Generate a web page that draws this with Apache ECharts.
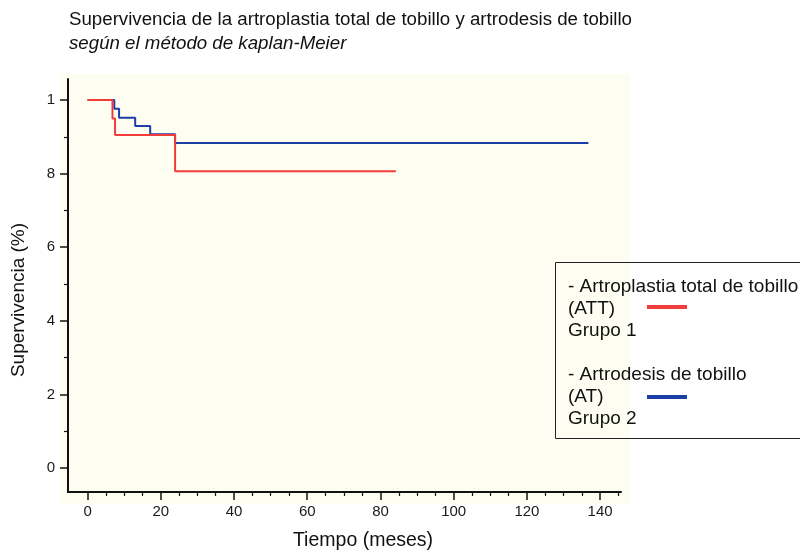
<!DOCTYPE html>
<html><head><meta charset="utf-8">
<script src="https://cdn.jsdelivr.net/npm/echarts@6/dist/echarts.min.js"></script>
<style>html,body{margin:0;padding:0;background:#fff}#c{width:800px;height:550px}</style>
</head><body><div id="c"></div>
<script>
// Kaplan-Meier steps: [time (months), survival]
const attTimes = [0, 6.8, 7.5, 23.9, 84.2];
const attSurv  = [1, 0.950, 0.905, 0.806, 0.806];
const atTimes  = [0, 7.3, 8.6, 13.0, 17.1, 23.9, 136.8];
const atSurv   = [1, 0.976, 0.952, 0.929, 0.907, 0.883, 0.883];
const xTicks = [0, 20, 40, 60, 80, 100, 120, 140];
const xMinorTicks = [5,10,15,25,30,35,45,50,55,65,70,75,85,90,95,105,110,115,125,130,135,145];
const yTicks = [0, 0.2, 0.4, 0.6, 0.8, 1];
const yTickLabels = ["0", "2", "4", "6", "8", "1"];
const yMinorTicks = [0.1, 0.3, 0.5, 0.7, 0.9];

const FONT = '"Liberation Sans", Arial, Helvetica, sans-serif';
const RED = '#f23c3c', BLUE = '#1c3fa6';
const zip = (a, b) => a.map((v, i) => [v, b[i]]);

const X0 = 68, X1 = 621, Y0 = 79, Y1 = 492;
const xMin = -5.35, xMax = 145.7, yMin = -0.0652, yMax = 1.057;

const chart = echarts.init(document.getElementById('c'), null, {renderer: 'canvas'});
chart.setOption({
  animation: false,
  backgroundColor: '#ffffff',
  grid: {left: X0, right: 800 - X1, top: Y0, bottom: 550 - Y1},
  xAxis: [
    {type: 'value', min: xMin, max: xMax, position: 'bottom',
     axisLine: {show: true, onZero: false, lineStyle: {color: '#111', width: 2}},
     axisTick: {show: true, customValues: xTicks, length: 8, inside: false, lineStyle: {color: '#111', width: 1.5}},
     axisLabel: {show: true, customValues: xTicks, margin: 12, fontFamily: FONT, fontSize: 15, color: '#1a1a1a'},
     splitLine: {show: false}},
    {type: 'value', min: xMin, max: xMax, position: 'bottom', offset: 0,
     axisLine: {show: false, onZero: false},
     axisTick: {show: true, customValues: xMinorTicks, length: 4, lineStyle: {color: '#111', width: 1.2}},
     axisLabel: {show: false}, splitLine: {show: false}}
  ],
  yAxis: [
    {type: 'value', min: yMin, max: yMax, position: 'left',
     axisLine: {show: true, onZero: false, lineStyle: {color: '#111', width: 2}},
     axisTick: {show: true, customValues: yTicks, length: 8, lineStyle: {color: '#111', width: 1.5}},
     axisLabel: {show: true, customValues: yTicks, margin: 13, fontFamily: FONT, fontSize: 15, color: '#1a1a1a',
       formatter: v => yTickLabels[Math.round(v * 5)]},
     splitLine: {show: false}},
    {type: 'value', min: yMin, max: yMax, position: 'left', offset: 0,
     axisLine: {show: false, onZero: false},
     axisTick: {show: true, customValues: yMinorTicks, length: 4, lineStyle: {color: '#111', width: 1.2}},
     axisLabel: {show: false}, splitLine: {show: false}}
  ],
  graphic: [
    {type: 'rect', z: -10, silent: true, shape: {x: 60, y: 74, width: 570, height: 430}, style: {fill: '#fefdf1'}},
    {type: 'text', x: 69, y: 20, style: {text: 'Supervivencia de la artroplastia total de tobillo y artrodesis de tobillo', font: '18.7px ' + FONT, fill: '#111', verticalAlign: 'middle'}},
    {type: 'text', x: 69, y: 44, style: {text: 'según el método de kaplan-Meier', font: 'italic 18.7px ' + FONT, fill: '#111', verticalAlign: 'middle'}},
    {type: 'text', x: 363, y: 541, style: {text: 'Tiempo (meses)', font: '19.5px ' + FONT, fill: '#111', align: 'center', verticalAlign: 'middle'}},
    {type: 'text', x: 19, y: 300, rotation: Math.PI / 2, style: {text: 'Supervivencia (%)', font: '19px ' + FONT, fill: '#111', align: 'center', verticalAlign: 'middle'}},
    {type: 'rect', z: 50, shape: {x: 555.5, y: 262.5, width: 260, height: 176}, style: {fill: 'transparent', stroke: '#222', lineWidth: 1}},
    {type: 'text', z: 51, left: 568, top: 276, style: {text: '- Artroplastia total de tobillo\n(ATT)\nGrupo 1\n\n- Artrodesis de tobillo\n(AT)\nGrupo 2', font: '19px ' + FONT, lineHeight: 22, fill: '#111'}},
    {type: 'line', z: 51, shape: {x1: 647, y1: 307, x2: 687, y2: 307}, style: {stroke: RED, lineWidth: 4}},
    {type: 'line', z: 51, shape: {x1: 647, y1: 397, x2: 687, y2: 397}, style: {stroke: BLUE, lineWidth: 4}}
  ],
  series: [
    {name: 'AT', type: 'line', step: 'end', showSymbol: false, data: zip(atTimes, atSurv),
     lineStyle: {color: BLUE, width: 2}, itemStyle: {color: BLUE}, z: 3},
    {name: 'ATT', type: 'line', step: 'end', showSymbol: false, data: zip(attTimes, attSurv),
     lineStyle: {color: RED, width: 2}, itemStyle: {color: RED}, z: 4}
  ]
});
</script></body></html>
